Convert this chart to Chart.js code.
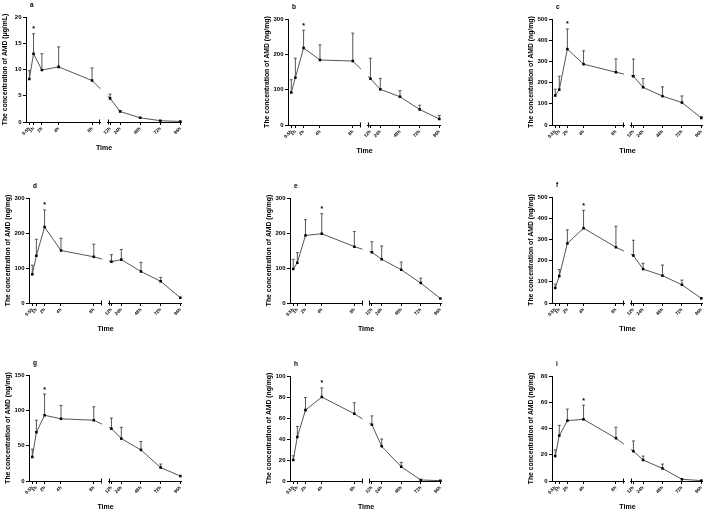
<!DOCTYPE html>
<html><head><meta charset="utf-8">
<script src="https://cdn.jsdelivr.net/npm/chart.js@4.4.1/dist/chart.umd.min.js"></script>
<style>
html,body{margin:0;padding:0;background:#fff;width:708px;height:513px;overflow:hidden;position:relative}
canvas{position:absolute}
</style></head><body>
<script>
// ---- data ----
const earlyTimes = [0.5, 1, 2, 4, 8];
const lateTimes = [12, 24, 48, 72, 96];
const earlyTickLabels = ['0.5h', '1h', '2h', '4h', '8h'];
const lateTickLabels = ['12h', '24h', '48h', '72h', '96h'];
const panelLetters = ['a', 'b', 'c', 'd', 'e', 'f', 'g', 'h', 'i'];
const yTitles = [
  'The concentration of AMD (μg/mL)',
  'The concentration of AMD (ng/mg)', 'The concentration of AMD (ng/mg)',
  'The concentration of AMD (ng/mg)', 'The concentration of AMD (ng/mg)',
  'The concentration of AMD (ng/mg)', 'The concentration of AMD (ng/mg)',
  'The concentration of AMD (ng/mg)', 'The concentration of AMD (ng/mg)'
];
const yMaxes = [20, 300, 500, 300, 300, 500, 150, 100, 80];
const yStepSizes = [5, 100, 100, 100, 100, 100, 50, 20, 20];
const starIndex = [1, 2, 2, 2, 3, 3, 2, 3, 3];

const meanA = [8.2, 13.0, 9.9, 10.5, 7.9, 4.5, 2.0, 0.8, 0.25, 0.1];
const sdA   = [1.6, 3.8, 3.1, 3.8, 2.4, 0.8, 0.2, 0.05, 0.05, 0];
const meanB = [92, 134, 218, 184, 181, 131, 101, 80, 44, 17];
const sdB   = [36, 55, 50, 43, 79, 58, 31, 17, 12, 10];
const meanC = [139, 167, 358, 287, 249, 230, 178, 136, 106, 33];
const sdC   = [30, 63, 95, 63, 63, 81, 41, 44, 31, 6];
const meanD = [82, 135, 217, 150, 132, 118, 124, 90, 62, 15];
const sdD   = [26, 47, 49, 35, 36, 20, 29, 26, 11, 0];
const meanE = [97, 115, 193, 198, 161, 145, 125, 95, 57, 13];
const sdE   = [28, 29, 45, 57, 43, 30, 38, 22, 14, 0];
const meanF = [71, 127, 281, 353, 263, 224, 160, 129, 86, 22];
const sdF   = [18, 31, 64, 84, 99, 72, 27, 50, 22, 0];
const meanG = [34, 69, 93, 88, 86, 74, 60, 44, 19, 7];
const sdG   = [11, 17, 30, 19, 19, 15, 16, 12, 5, 0];
const meanH = [20, 42, 67.5, 80, 64, 53.6, 33, 13.5, 1, 0.3];
const sdH   = [4, 10, 12, 8.6, 10.5, 8.4, 7, 4.2, 0, 0];
const meanI = [19, 34.6, 46, 47, 32.6, 22.7, 16, 9.6, 1.3, 0.3];
const sdI   = [4.7, 7.8, 8.8, 10.8, 8.4, 7.8, 3, 3.3, 0, 0];

const panelMeans = [meanA, meanB, meanC, meanD, meanE, meanF, meanG, meanH, meanI];
const panelSDs = [sdA, sdB, sdC, sdD, sdE, sdF, sdG, sdH, sdI];

// ---- layout (plot area: left, top, right, bottom) ----
const panelBoxes = [
  [26, 17, 182, 122], [288, 19, 441, 125], [552, 19, 703, 125],
  [29, 198, 182, 303], [290, 198, 442, 303], [552, 197, 703, 303],
  [29, 375, 182, 481], [290, 376, 442, 481], [552, 376, 703, 481]
];

Chart.defaults.font.family = "'Liberation Sans', Arial, sans-serif";
Chart.defaults.color = '#000';

function buildChart(p) {
  const [L, T, R, B] = panelBoxes[p];
  const padL = 1, yW = 27, padT = 16, padR = 4, xH = 18, padB = 14;
  const cv = document.createElement('canvas');
  const W = (R - L) + padL + yW + padR, H = (B - T) + padT + xH + padB;
  cv.width = W; cv.height = H;
  cv.style.left = (L - padL - yW) + 'px';
  cv.style.top = (T - padT) + 'px';
  document.body.appendChild(cv);

  const mean = panelMeans[p], sd = panelSDs[p];
  const early = earlyTimes.map((t, i) => ({x: t, y: mean[i]}));
  const late = lateTimes.map((t, i) => ({x: t, y: mean[i + 5]}));

  const axisGrid = {display: true, drawOnChartArea: false, drawTicks: true, tickLength: 3, color: '#000', lineWidth: 1};
  const axisBorder = {display: true, color: '#000', width: 1};
  const xTickFont = {size: 4.6, weight: 'bold'};

  const decor = {
    id: 'decor' + p,
    beforeDatasetsDraw(chart) {
      const ctx = chart.ctx, y = chart.scales.y, x1 = chart.scales.x1, x2 = chart.scales.x2;
      const m0 = chart.getDatasetMeta(0), m1 = chart.getDatasetMeta(1);
      // bridge line across the axis break
      const a = m0.data[m0.data.length - 1], b = m1.data[0];
      ctx.save();
      ctx.beginPath();
      ctx.rect(x1.left, y.top - 10, x1.right - x1.left, y.bottom - y.top + 20);
      ctx.rect(x2.left, y.top - 10, x2.right - x2.left, y.bottom - y.top + 20);
      ctx.clip();
      ctx.strokeStyle = '#555'; ctx.lineWidth = 1;
      ctx.beginPath(); ctx.moveTo(a.x, a.y); ctx.lineTo(b.x, b.y); ctx.stroke();
      ctx.restore();
      // error bars (mean + SD)
      ctx.save();
      ctx.strokeStyle = '#444'; ctx.lineWidth = 0.9;
      [m0, m1].forEach((meta, di) => {
        meta.data.forEach((pt, i) => {
          const k = di * 5 + i;
          if (!sd[k]) return;
          const yTop = y.getPixelForValue(mean[k] + sd[k]);
          ctx.beginPath();
          ctx.moveTo(pt.x, pt.y); ctx.lineTo(pt.x, yTop);
          ctx.moveTo(pt.x - 1.5, yTop); ctx.lineTo(pt.x + 1.5, yTop);
          ctx.stroke();
        });
      });
      ctx.restore();
    },
    afterDraw(chart) {
      const ctx = chart.ctx, y = chart.scales.y, x1 = chart.scales.x1, x2 = chart.scales.x2, xg = chart.scales.xg;
      ctx.save();
      // break marks
      ctx.strokeStyle = '#000'; ctx.lineWidth = 1;
      ctx.beginPath();
      ctx.moveTo(Math.round(x1.right) - 0.5, y.bottom - 2.5); ctx.lineTo(Math.round(x1.right) - 0.5, y.bottom + 2.5);
      ctx.moveTo(Math.round(x2.left) + 0.5, y.bottom - 2.5); ctx.lineTo(Math.round(x2.left) + 0.5, y.bottom + 2.5);
      ctx.stroke();
      ctx.fillStyle = '#000';
      // star
      const s = starIndex[p];
      const meta = chart.getDatasetMeta(s < 5 ? 0 : 1);
      const pt = meta.data[s % 5];
      const yTop = y.getPixelForValue(mean[s] + sd[s]);
      ctx.font = "bold 7px 'Liberation Sans', Arial, sans-serif";
      ctx.textAlign = 'center'; ctx.textBaseline = 'alphabetic';
      ctx.fillText('*', pt.x, yTop - 2.5);
      // panel letter
      ctx.font = "bold 6.5px 'Liberation Sans', Arial, sans-serif";
      ctx.textAlign = 'left'; ctx.textBaseline = 'middle';
      ctx.fillText(panelLetters[p], y.right + 4, y.top - 12);
      // x title
      ctx.font = "bold 7px 'Liberation Sans', Arial, sans-serif";
      ctx.textAlign = 'center'; ctx.textBaseline = 'middle';
      ctx.fillText('Time', (xg.left + xg.right) / 2, y.bottom + 26);
      ctx.restore();
    }
  };

  const lineStyle = {
    borderColor: '#555', borderWidth: 1, tension: 0,
    pointStyle: 'rect', pointRadius: 1.8, pointBackgroundColor: '#000', pointBorderWidth: 0,
    clip: {left: 0, right: 0, top: 6, bottom: 6}
  };

  new Chart(cv, {
    type: 'line',
    data: {
      datasets: [
        Object.assign({data: early, xAxisID: 'x1', yAxisID: 'y'}, lineStyle),
        Object.assign({data: late, xAxisID: 'x2', yAxisID: 'y'}, lineStyle)
      ]
    },
    options: {
      responsive: false, animation: false, devicePixelRatio: 1,
      layout: {padding: {left: padL, top: padT, right: padR, bottom: padB}},
      plugins: {legend: {display: false}, tooltip: {enabled: false}, title: {display: false}},
      scales: {
        x1: {
          type: 'linear', position: 'bottom', stack: 'time', stackWeight: 73, min: 0.1, max: 9,
          afterBuildTicks: s => { s.ticks = earlyTimes.map(v => ({value: v})); },
          afterFit: s => { s.height = xH; },
          grid: axisGrid, border: axisBorder,
          ticks: {autoSkip: false, minRotation: 45, maxRotation: 45, padding: 1, font: xTickFont,
                  callback: (v, i) => earlyTickLabels[i]}
        },
        xg: {
          type: 'linear', position: 'bottom', stack: 'time', stackWeight: 7, min: 0, max: 1,
          afterFit: s => { s.height = xH; },
          grid: {display: false}, border: {display: false}, ticks: {display: false}
        },
        x2: {
          type: 'linear', position: 'bottom', stack: 'time', stackWeight: 73, min: 9, max: 98,
          afterBuildTicks: s => { s.ticks = lateTimes.map(v => ({value: v})); },
          afterFit: s => { s.height = xH; },
          grid: axisGrid, border: axisBorder,
          ticks: {autoSkip: false, minRotation: 45, maxRotation: 45, padding: 1, font: xTickFont,
                  callback: (v, i) => lateTickLabels[i]}
        },
        y: {
          type: 'linear', position: 'left', min: 0, max: yMaxes[p],
          afterFit: s => { s.width = yW; },
          grid: axisGrid, border: axisBorder,
          ticks: {stepSize: yStepSizes[p], padding: 1.5, font: {size: 6, weight: 'bold'}},
          title: {display: true, text: yTitles[p], font: {size: 6.8, weight: 'bold'}, padding: {top: 2, bottom: 0}}
        }
      }
    },
    plugins: [decor]
  });
}

for (let p = 0; p < 9; p++) buildChart(p);
</script>
</body></html>
